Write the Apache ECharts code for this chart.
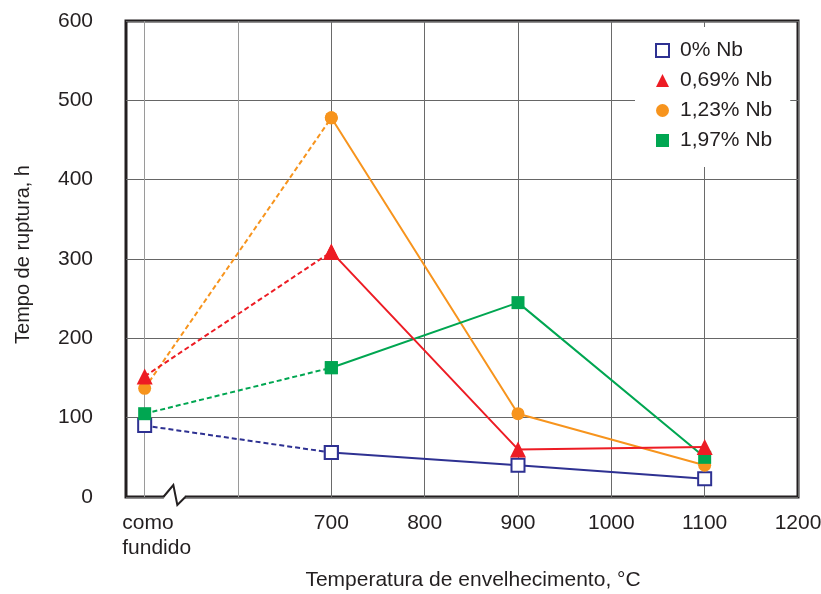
<!DOCTYPE html>
<html>
<head>
<meta charset="utf-8">
<script src="https://cdn.jsdelivr.net/npm/echarts@6/dist/echarts.min.js"></script>
<style>html,body{margin:0;padding:0;background:#fff}#c{width:821px;height:594px}</style>
</head>
<body>
<div id="c"></div>
<script>
// ---- data ----
const pointKeys = ['500', '700', '900', '1100'];          // 500 = "como fundido" position
const asCastKey = '500';
const asCastLabel = 'como\nfundido';
const labeledTicks = ['700', '800', '900', '1000', '1100', '1200'];
const gridTicks = ['500', '600', '700', '800', '900', '1000', '1100', '1200'];
const seriesNames = ['0% Nb', '0,69% Nb', '1,23% Nb', '1,97% Nb'];
const nb000 = [90, 56, 40, 23];
const nb069 = [152, 309, 60, 63];
const nb123 = [137, 478, 105, 40];
const nb197 = [105, 163, 245, 50];
const yTicks = [0, 100, 200, 300, 400, 500, 600];

// axis categories (20-degree steps from the left frame edge to 1200)
const xCategories = [];
for (let t = 480; t <= 1200; t += 20) xCategories.push(String(t));

const FONT = '"Liberation Sans", Arial, sans-serif';
const TXT = '#231f20';
const colors = ['#2e3192', '#ed1c24', '#f7941d', '#00a651'];
const symbols = ['rect', 'triangle', 'circle', 'rect'];
const sizes = [13, 16, 13, 13];
const values = [nb000, nb069, nb123, nb197];

const series = [];
values.forEach((vals, i) => {
  const pts = pointKeys.map((k, j) => [k, vals[j]]);
  const itemStyle = i === 0
    ? { color: '#fff', borderColor: colors[0], borderWidth: 2 }
    : { color: colors[i] };
  const common = {
    name: seriesNames[i], type: 'line', symbol: symbols[i], symbolSize: sizes[i],
    itemStyle: itemStyle, z: i === 1 ? 6 : 3 + i * 0.1, animation: false, showAllSymbol: true
  };
  series.push(Object.assign({}, common, {
    data: pts.slice(0, 2),
    lineStyle: { color: colors[i], width: 2, type: [5, 3] }
  }));
  series.push(Object.assign({}, common, {
    data: pts.slice(1),
    lineStyle: { color: colors[i], width: 2, type: 'solid' }
  }));
});

const chart = echarts.init(document.getElementById('c'), null, { renderer: 'canvas' });
chart.setOption({
  backgroundColor: '#fff',
  animation: false,
  textStyle: { fontFamily: FONT },
  grid: { left: 126, right: 23, top: 21, bottom: 97, show: true, borderColor: '#231f20', borderWidth: 3,
          backgroundColor: 'transparent', containLabel: false, outerBoundsMode: 'none' },
  legend: {
    orient: 'vertical', left: 635, top: 27,
    padding: [13, 18, 16, 20], itemGap: 9, itemWidth: 13, itemHeight: 13,
    backgroundColor: '#fff', borderWidth: 0,
    textStyle: { fontSize: 21, color: TXT, fontFamily: FONT, lineHeight: 20, padding: [0, 0, 0, 6] },
    data: [
      { name: seriesNames[0], icon: 'rect', itemStyle: { color: '#fff', borderColor: colors[0], borderWidth: 2 } },
      { name: seriesNames[1], icon: 'triangle', itemStyle: { color: colors[1] } },
      { name: seriesNames[2], icon: 'circle', itemStyle: { color: colors[2] } },
      { name: seriesNames[3], icon: 'rect', itemStyle: { color: colors[3] } }
    ]
  },
  xAxis: {
    type: 'category', data: xCategories, boundaryGap: false,
    axisLine: { show: false }, axisTick: { show: false },
    axisLabel: {
      interval: (idx, val) => val === asCastKey || labeledTicks.indexOf(val) >= 0,
      formatter: (val) => val === asCastKey ? '{cf|' + asCastLabel + '}' : val,
      fontSize: 21, color: TXT, fontFamily: FONT, margin: 14, lineHeight: 25,
      rich: { cf: { fontSize: 21, lineHeight: 25, align: 'left', padding: [0, 0, 0, 24], color: TXT, fontFamily: FONT } }
    },
    splitLine: {
      show: true,
      interval: (idx, val) => gridTicks.indexOf(val) >= 0,
      lineStyle: { color: ['#9a9a9a', '#9a9a9a', '#6a6a6a', '#6a6a6a', '#6a6a6a', '#6a6a6a', '#6a6a6a', '#6a6a6a'], width: 1 }
    },
    name: 'Temperatura de envelhecimento, °C', nameLocation: 'middle', nameGap: 73,
    nameTextStyle: { fontSize: 21, color: TXT, fontFamily: FONT, padding: [0, 0, 0, 22] }
  },
  yAxis: {
    type: 'value', min: yTicks[0], max: yTicks[yTicks.length - 1], interval: 100,
    axisLine: { show: false }, axisTick: { show: false },
    axisLabel: { fontSize: 21, color: TXT, fontFamily: FONT, margin: 33 },
    splitLine: { show: true, lineStyle: { color: '#666', width: 1 } },
    name: 'Tempo de ruptura, h', nameLocation: 'middle', nameGap: 93,
    nameTextStyle: { fontSize: 20, color: TXT, fontFamily: FONT, padding: [0, 0, 0, 9] }
  },
  series: series
});

// axis break mark on the bottom frame
const i0 = xCategories.indexOf('520');
const pA = chart.convertToPixel({ xAxisIndex: 0, yAxisIndex: 0 }, [i0, 0]);
const x0 = pA[0], y0 = pA[1];
chart.setOption({
  graphic: [
    { type: 'rect', shape: { x: x0 + 0.5, y: y0 - 3, width: 21, height: 6 }, style: { fill: '#fff' }, z: 100 },
    { type: 'polyline', shape: { points: [[x0, y0], [x0 + 10, y0 - 12], [x0 + 14, y0 + 8], [x0 + 22, y0]] },
      style: { stroke: '#231f20', lineWidth: 2, fill: null }, z: 101 }
  ]
});
</script>
</body>
</html>
